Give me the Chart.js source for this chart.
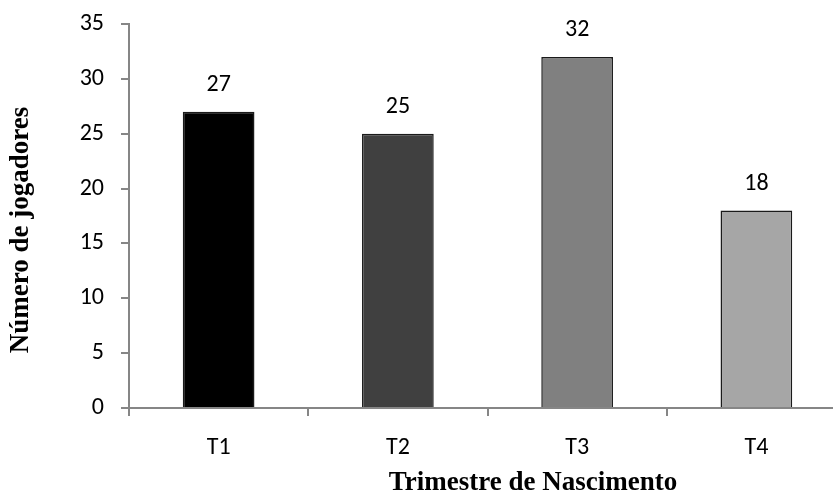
<!DOCTYPE html>
<html>
<head>
<meta charset="utf-8">
<script src="https://cdn.jsdelivr.net/npm/chart.js@4/dist/chart.umd.min.js"></script>
<style>
  html, body { margin: 0; padding: 0; background: #fff; overflow: hidden; }
  #wrap { width: 846px; height: 495px; }
</style>
</head>
<body>
<div id="wrap"><canvas id="chart" width="846" height="495"></canvas></div>
<script>
const categories = ["T1", "T2", "T3", "T4"];
const jogadores = [27, 25, 32, 18];
const barColors = ["#000000", "#404040", "#808080", "#a6a6a6"];
const yTicks = [0, 5, 10, 15, 20, 25, 30, 35];

const tickFont = { family: "Carlito, Lato, 'DejaVu Sans', sans-serif", size: 24 };
const titleFont = "bold 27px 'Liberation Serif', 'Times New Roman', serif";

// valores em cima das barras + titulos dos eixos
const labelsPlugin = {
  id: "labelsPlugin",
  afterDatasetsDraw(chart) {
    const ctx = chart.ctx;
    const meta = chart.getDatasetMeta(0);
    ctx.save();
    ctx.fillStyle = "#000";
    ctx.font = tickFont.size + "px " + tickFont.family;
    ctx.textAlign = "center";
    ctx.textBaseline = "middle";
    meta.data.forEach((bar, i) => {
      ctx.fillText(String(jogadores[i]), bar.x, bar.y - 27);
    });

    ctx.font = titleFont;
    ctx.textBaseline = "alphabetic";
    ctx.fillText("Trimestre de Nascimento", 533, 490);

    ctx.translate(28, 230);
    ctx.rotate(-Math.PI / 2);
    ctx.fillText("Número de jogadores", 0, 0);
    ctx.restore();
  }
};

new Chart(document.getElementById("chart"), {
  type: "bar",
  data: {
    labels: categories,
    datasets: [{
      label: "Número de jogadores",
      data: jogadores,
      backgroundColor: barColors,
      borderColor: "#1a1a1a",
      borderWidth: 1.5,
      barPercentage: 0.4,
      categoryPercentage: 1.0
    }]
  },
  options: {
    responsive: false,
    animation: false,
    layout: { padding: { top: 24, left: 0, right: 0, bottom: 0 } },
    plugins: {
      legend: { display: false },
      tooltip: { enabled: false }
    },
    scales: {
      x: {
        grid: {
          display: true,
          drawOnChartArea: false,
          drawTicks: true,
          tickLength: 8,
          color: "#868686",
          lineWidth: 2
        },
        border: { display: true, color: "#868686", width: 2 },
        ticks: { color: "#000", font: tickFont, padding: 18 },
        afterFit(scale) {
          scale.height = 87;
          scale.paddingLeft = 0;
          scale.paddingRight = 0;
        }
      },
      y: {
        min: 0,
        max: 35,
        afterBuildTicks(scale) { scale.ticks = yTicks.map(v => ({ value: v })); },
        grid: {
          display: true,
          drawOnChartArea: false,
          drawTicks: true,
          tickLength: 8,
          color: "#868686",
          lineWidth: 2
        },
        border: { display: true, color: "#868686", width: 2 },
        ticks: { color: "#000", font: tickFont, padding: 17 },
        afterFit(scale) {
          scale.width = 129;
          scale.paddingTop = 0;
          scale.paddingBottom = 0;
        }
      }
    }
  },
  plugins: [labelsPlugin]
});
</script>
</body>
</html>
